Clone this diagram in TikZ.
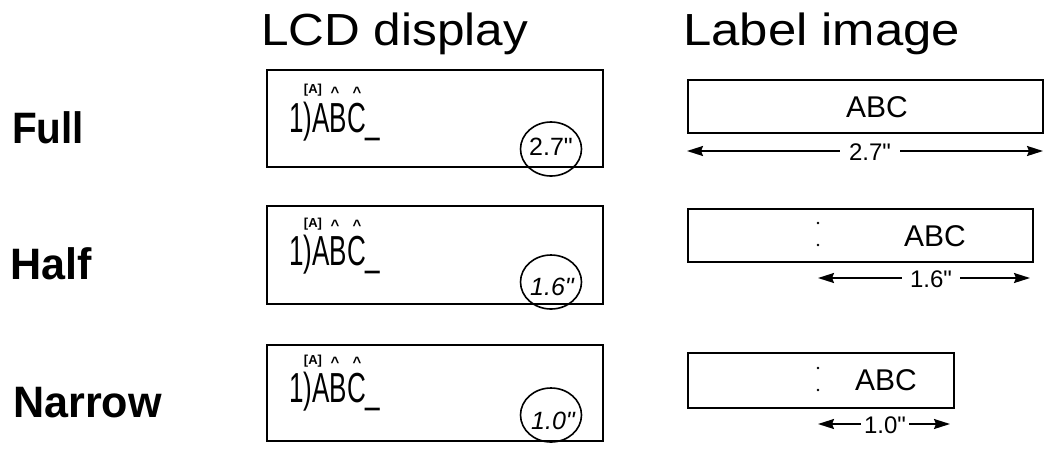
\documentclass[tikz,border=0pt]{standalone}
\usepackage{fontspec}
\usepackage{graphicx}
\setmainfont{Liberation Sans}
\newfontfamily\plainsans{Liberation Sans}
\AtBeginDocument{\plainsans}
\usetikzlibrary{shapes.geometric,arrows.meta}
\begin{document}
\begin{tikzpicture}[x=1pt,y=-1pt,
  heading/.style={anchor=base west,inner sep=0pt,font=\fontsize{45}{45}\selectfont},
  rowlabel/.style={anchor=base west,inner sep=0pt,font=\bfseries\fontsize{44}{44}\selectfont},
  lcdbox/.style={draw,line width=1.8pt,anchor=north west,inner sep=0pt},
  lcdtext/.style={anchor=base west,inner sep=0pt,font=\fontsize{42}{42}\selectfont},
  lcdmark/.style={anchor=base,inner sep=0pt,font=\bfseries\fontsize{13}{13}\selectfont},
  caret/.style={anchor=base,inner sep=0pt,font=\bfseries\fontsize{15}{15}\selectfont},
  lenmark/.style={draw,ellipse,line width=1.6pt,minimum width=61pt,minimum height=54pt,inner sep=0pt},
  lentext/.style={inner sep=0pt,font=\fontsize{25}{25}\selectfont},
  tape/.style={draw,line width=2pt,anchor=north west,inner sep=0pt},
  tapetext/.style={inner sep=0pt,font=\fontsize{30}{30}\selectfont},
  dimtext/.style={inner ysep=0pt,font=\fontsize{24}{24}\selectfont},
  dim/.style={line width=1.8pt,-{Stealth[length=16pt,width=10pt,inset=2pt]}},
  cutdot/.style={fill=black},
]
\useasboundingbox (0,0) rectangle (1044,448);

% headings
\node[heading] (hLCD) at (261,45) {\scalebox{1.1}[1]{LCD display}};
\node[heading] (hLabel) at (683,45) {\scalebox{1.13}[1]{Label image}};

% row labels
\node[rowlabel] (rFull) at (12,143) {\scalebox{0.92}[1]{Full}};
\node[rowlabel] (rHalf) at (10,279) {\scalebox{0.98}[1]{Half}};
\node[rowlabel] (rNarrow) at (13,417) {\scalebox{0.98}[1]{Narrow}};

% ---------- LCD: Full ----------
\node[lcdbox,minimum width=336pt,minimum height=97pt] (lcdF) at (266,69) {};
\node[lcdtext] (txF) at (289,132) {\scalebox{0.62}[1]{1)ABC\_}};
\node[lcdmark] (aF) at (313,93) {[A]};
\node[caret] (c1F) at (335,97) {\textasciicircum};
\node[caret] (c2F) at (357,97) {\textasciicircum};
\node[lenmark] (mF) at (551,149) {};
\node[lentext] (lF) at (551,147) {2.7"};

% ---------- LCD: Half ----------
\node[lcdbox,minimum width=336pt,minimum height=98pt] (lcdH) at (266,205) {};
\node[lcdtext] (txH) at (289,265) {\scalebox{0.62}[1]{1)ABC\_}};
\node[lcdmark] (aH) at (313,227) {[A]};
\node[caret] (c1H) at (335,230) {\textasciicircum};
\node[caret] (c2H) at (357,230) {\textasciicircum};
\node[lenmark] (mH) at (551,282) {};
\node[lentext] (lH) at (552,287) {\itshape 1.6"};

% ---------- LCD: Narrow ----------
\node[lcdbox,minimum width=336pt,minimum height=96pt] (lcdN) at (266,344) {};
\node[lcdtext] (txN) at (289,402) {\scalebox{0.62}[1]{1)ABC\_}};
\node[lcdmark] (aN) at (313,364) {[A]};
\node[caret] (c1N) at (335,367) {\textasciicircum};
\node[caret] (c2N) at (357,367) {\textasciicircum};
\node[lenmark] (mN) at (551,415) {};
\node[lentext] (lN) at (553,421) {\itshape 1.0"};

% ---------- Label: Full ----------
\node[tape,minimum width=355pt,minimum height=53pt] (tF) at (687,79) {};
\node[tapetext] (abcF) at (877,107) {ABC};
\node[dimtext,inner xsep=9pt] (dF) at (870,152) {2.7"};
\coordinate (dFl) at (687,151);
\coordinate (dFr) at (1043,151);
\draw[dim] (dF.west |- dFl) -- (dFl);
\draw[dim] (dF.east |- dFr) -- (dFr);

% ---------- Label: Half ----------
\node[tape,minimum width=345pt,minimum height=53pt] (tH) at (687,208) {};
\fill[cutdot] (818,223) circle (1.4pt);
\fill[cutdot] (818,245) circle (1.4pt);
\node[tapetext] (abcH) at (935,236) {ABC};
\node[dimtext,inner xsep=8pt] (dH) at (931,279) {1.6"};
\coordinate (dHl) at (818,278);
\coordinate (dHr) at (1030,278);
\draw[dim] (dH.west |- dHl) -- (dHl);
\draw[dim] (dH.east |- dHr) -- (dHr);

% ---------- Label: Narrow ----------
\node[tape,minimum width=266pt,minimum height=55pt] (tN) at (687,352) {};
\fill[cutdot] (818,368) circle (1.4pt);
\fill[cutdot] (818,390) circle (1.4pt);
\node[tapetext] (abcN) at (886,380) {ABC};
\node[dimtext,inner xsep=3pt] (dN) at (885,425) {1.0"};
\coordinate (dNl) at (818,424);
\coordinate (dNr) at (950,424);
\draw[dim] (dN.west |- dNl) -- (dNl);
\draw[dim] (dN.east |- dNr) -- (dNr);
\end{tikzpicture}
\end{document}
